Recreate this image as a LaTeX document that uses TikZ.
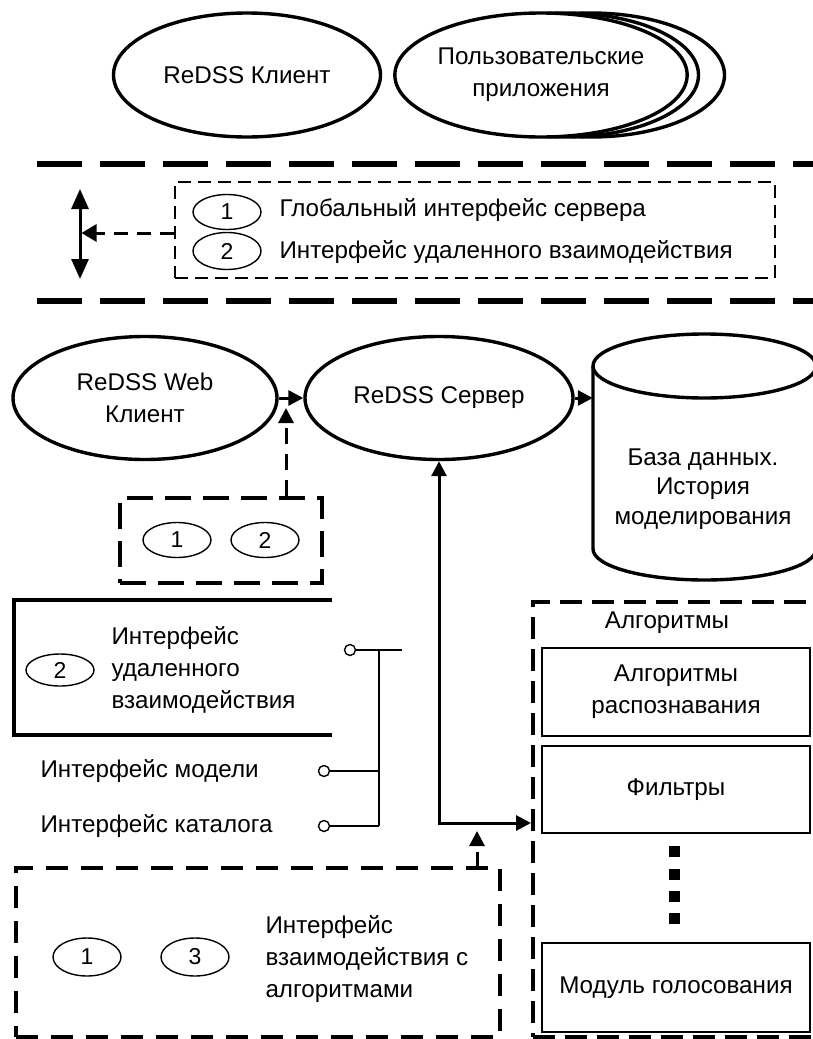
\documentclass[tikz,border=0pt]{standalone}
\usepackage{fontspec}
\setmainfont{Liberation Sans}
\usetikzlibrary{shapes.geometric,arrows.meta}
\begin{document}
\begin{tikzpicture}[x=1pt,y=-1pt,
  bigfont/.style={font=\fontsize{24.2}{32}\selectfont},
  numfont/.style={font=\fontsize{23}{24}\selectfont},
  oval/.style={ellipse, draw, line width=3.4pt, inner sep=0pt, bigfont, align=center,
               minimum width=267pt, minimum height=124pt},
  numoval/.style={ellipse, draw, line width=1.4pt, inner sep=0pt,
                  minimum width=68pt, minimum height=35pt, numfont},
  tipend/.style={-{Triangle[length=15pt,width=15pt]}},
  tipboth/.style={{Triangle[length=15pt,width=15pt]}-{Triangle[length=15pt,width=15pt]}},
  heavy/.style={line width=3pt},
  bandline/.style={line width=5.5pt, dash pattern=on 45pt off 18pt},
  thickdash/.style={draw, line width=3.6pt, dash pattern=on 24pt off 11pt, inner sep=0pt},
  inbox/.style={draw, line width=1.8pt, minimum width=268pt, inner sep=0pt, align=center, bigfont},
  wire/.style={line width=1.4pt},
  pin/.style={circle, draw, line width=1.4pt, fill=white, minimum size=11pt, inner sep=0pt},
  dot/.style={fill, minimum size=11pt, inner sep=0pt}
]
\useasboundingbox (0,0) rectangle (813,1039);
\clip (0,0) rectangle (813,1039);

% client applications
\node[oval] (client) at (247,75) {ReDSS Клиент};
\node[oval, fill=white] (apps3) at (591,75) {};
\node[oval, fill=white] (apps2) at (565,75) {};
\node[oval, fill=white] (apps) at (541,75) {Пользовательские\\приложения};

% interface band
\draw[bandline] (37,164) -- (813,164);
\draw[bandline] (37,301) -- (813,301);
\node[draw, line width=2.6pt, dash pattern=on 13pt off 7pt, inner sep=0pt,
      minimum width=600pt, minimum height=96pt] (gbox) at (475,230) {};
\node[numoval] (g1) at (227,212) {1};
\node[numoval, minimum height=37pt] (g2) at (227,251) {2};
\node[bigfont, anchor=west] (g1t) at (276,210) {Глобальный интерфейс сервера};
\node[bigfont, anchor=west] (g2t) at (276,252) {Интерфейс удаленного взаимодействия};
\coordinate (vtop) at (80,189);
\coordinate (vbot) at (80,279);
\draw[heavy, {Triangle[length=20pt,width=17pt]}-{Triangle[length=20pt,width=17pt]}] (vtop) -- (vbot);
\draw[heavy, dash pattern=on 14pt off 9pt, -{Triangle[length=15pt,width=17pt]}, shorten >=1.5pt]
  (gbox.west |- 0,233) -- (vtop |- 0,233);

% server row
\node[oval, minimum width=264pt, minimum height=123pt] (web) at (145,398) {ReDSS Web\\Клиент};
\node[oval, minimum width=268pt, minimum height=123pt] (server) at (439,398) {ReDSS Сервер};
\node[minimum width=223pt, minimum height=246pt, inner sep=0pt] (db) at (704.5,457) {};
\draw[line width=3.4pt] (593,366) -- (593,549)
  arc[start angle=180, end angle=360, x radius=111.5pt, y radius=31pt] -- (816,366);
\draw[line width=3.4pt] (704.5,366) ellipse[x radius=111.5pt, y radius=32pt];
\node[align=center, font=\fontsize{24.2}{29.5}\selectfont] (dbt) at (703,489)
  {База данных.\\История\\моделирования};
\draw[heavy, tipend] (web.east) -- (server.west);
\draw[heavy, tipend] (server.east) -- (server.east -| db.west);

% interfaces of the web client
\node[thickdash, dash pattern=on 26pt off 12pt, minimum width=202pt, minimum height=85pt] (pair) at (221,540.5) {};
\node[numoval] (p1) at (177,540) {1};
\node[numoval] (p2) at (265,540) {2};
\coordinate (webtip) at (286,408);
\draw[heavy, dash pattern=on 16pt off 10pt, tipend] (pair.north -| webtip) -- (webtip);

% server interfaces
\draw[line width=3.5pt] (332,600) -- (14,600) -- (14,735) -- (332,735);
\node[numoval, minimum height=32pt] (r2) at (60,670) {2};
\node[bigfont, anchor=west, align=left] (rt) at (108,670) {Интерфейс\\удаленного\\взаимодействия};
\node[bigfont, anchor=west] (mt) at (37,771) {Интерфейс модели};
\node[bigfont, anchor=west] (ct) at (37,826) {Интерфейс каталога};
\node[pin] (l1) at (350,650) {};
\node[pin] (l2) at (324,771) {};
\node[pin] (l3) at (324,826) {};
\coordinate (bus) at (379,650);
\coordinate (busend) at (402,650);
\draw[wire] (l1.east) -- (busend);
\draw[wire] (bus) -- (bus |- l3);
\draw[wire] (l2.east) -- (l2 -| bus);
\draw[wire] (l3.east) -- (l3 -| bus);

% algorithms
\node[thickdash, dash pattern=on 22pt off 10pt, minimum width=319pt, minimum height=435pt,
      anchor=north west] (algo) at (531,600) {};
\node[bigfont] (algot) at (667,623) {Алгоритмы};
\node[inbox, minimum height=88pt] (recog) at (676,692) {Алгоритмы\\распознавания};
\node[inbox, minimum height=87pt] (filt) at (676,789.5) {Фильтры};
\node[inbox, minimum height=89pt] (vote) at (676,987.5) {Модуль голосования};
\node[dot] (d1) at (674,851) {};
\node[dot] (d2) at (674,874) {};
\node[dot] (d3) at (674,896) {};
\node[dot] (d4) at (674,918) {};

\coordinate (hub) at (441,823);
\draw[heavy, tipboth] (server.south) -- (server.south |- hub) -- (hub -| algo.west);

% interface to the algorithms
\node[thickdash, dash pattern=on 22pt off 13pt, minimum width=484pt, minimum height=169pt,
      anchor=north west] (algif) at (14,866) {};
\node[numoval, minimum height=38pt] (b1) at (87,957) {1};
\node[numoval, minimum height=38pt] (b3) at (195,957) {3};
\node[bigfont, anchor=west, align=left] (bt) at (262,959) {Интерфейс\\взаимодействия с\\алгоритмами};
\coordinate (algtip) at (477,831);
\draw[heavy, dash pattern=on 14pt off 8pt, tipend] (algif.north -| algtip) -- (algtip);
\end{tikzpicture}
\end{document}
